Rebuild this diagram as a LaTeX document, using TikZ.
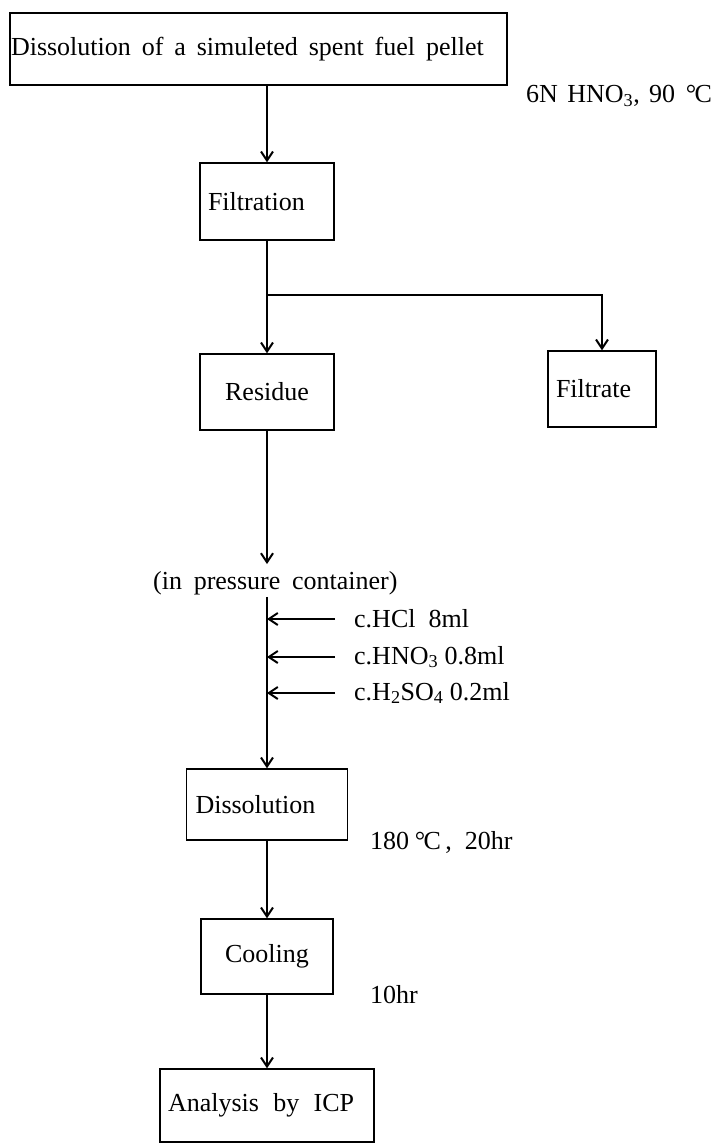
\documentclass[tikz,border=0pt]{standalone}
\usepackage{fontspec}
\setmainfont{Liberation Serif}
\usetikzlibrary{arrows.meta,calc}
\newcommand{\degC}{\kern0.05em°\kern-0.06em C}
\begin{document}
\begin{tikzpicture}[x=1pt,y=-1pt,
  every node/.style={font=\fontsize{26}{31}\selectfont, inner sep=2pt},
  box/.style={draw, line width=1.4pt, inner ysep=0pt, align=left},
  cbox/.style={draw, line width=1.4pt, inner ysep=0pt, align=center},
  conn/.style={line width=1.3pt},
  arr/.style={conn, -{Straight Barb[length=9pt,width=12pt,line width=2pt]}},
  lbl/.style={anchor=west}
]
\useasboundingbox (0,0) rectangle (718,1144);

% boxes
\node[box, text width=495pt, inner xsep=1pt, minimum height=72pt] (box1) at (258.5,49)
  {{\spaceskip=0.42em\relax Dissolution of a simuleted spent fuel pellet}};
\node[box, text width=118pt, inner xsep=8pt, minimum height=77pt] (filt) at (267,201.5) {Filtration};
\node[cbox, text width=118pt, inner xsep=8pt, minimum height=76pt] (res) at (267,392) {Residue};
\node[box, text width=92pt, inner xsep=8pt, minimum height=76pt] (filtr) at (602,389) {Filtrate};
\node[box, text width=143pt, inner xsep=9pt, minimum height=71pt] (diss) at (267,804.5) {Dissolution};
\node[cbox, text width=116pt, inner xsep=8pt, minimum height=75pt] (cool) at (267,956.5) {Cooling};
\node[box, text width=198pt, inner xsep=8pt, minimum height=73pt] (ana) at (267,1105.5)
  {{\spaceskip=0.55em\relax Analysis by ICP}};

% free texts
\node[lbl] (cond1) at (524,96) {{\spaceskip=0.36em\relax 6N HNO\textsubscript{3}, 90 \degC}};
\node[lbl] (pc) at (151,583) {{\spaceskip=0.45em\relax (in pressure container)}};
\node[lbl] (hcl) at (352,619) {c.HCl\ \ 8ml};
\node[lbl] (hno) at (352,657) {c.HNO\textsubscript{3} 0.8ml};
\node[lbl] (hso) at (352,693) {c.H\textsubscript{2}SO\textsubscript{4} 0.2ml};
\node[lbl] (cond2) at (368,842) {180\,\degC\,,\ \ 20hr};
\node[lbl] (cond3) at (368,995) {10hr};

% connectors
\draw[arr] (filt.north |- box1.south) -- (filt.north);
\coordinate (j) at (267,295);
\draw[conn] (filt.south) -- (j);
\draw[arr] (j) -- (res.north);
\draw[arr] (j) -| (filtr.north);
\draw[arr, shorten >=5pt] (res.south) -- (res.south |- pc.north);
\draw[arr] (pc.south -| diss.north) -- (diss.north);
\draw[arr] ([xshift=-17pt]hcl.west) -- (hcl.west -| diss.north);
\draw[arr] ([xshift=-17pt]hno.west) -- (hno.west -| diss.north);
\draw[arr] ([xshift=-17pt]hso.west) -- (hso.west -| diss.north);
\draw[arr] (diss.south) -- (cool.north);
\draw[arr] (cool.south) -- (ana.north);
\end{tikzpicture}
\end{document}
